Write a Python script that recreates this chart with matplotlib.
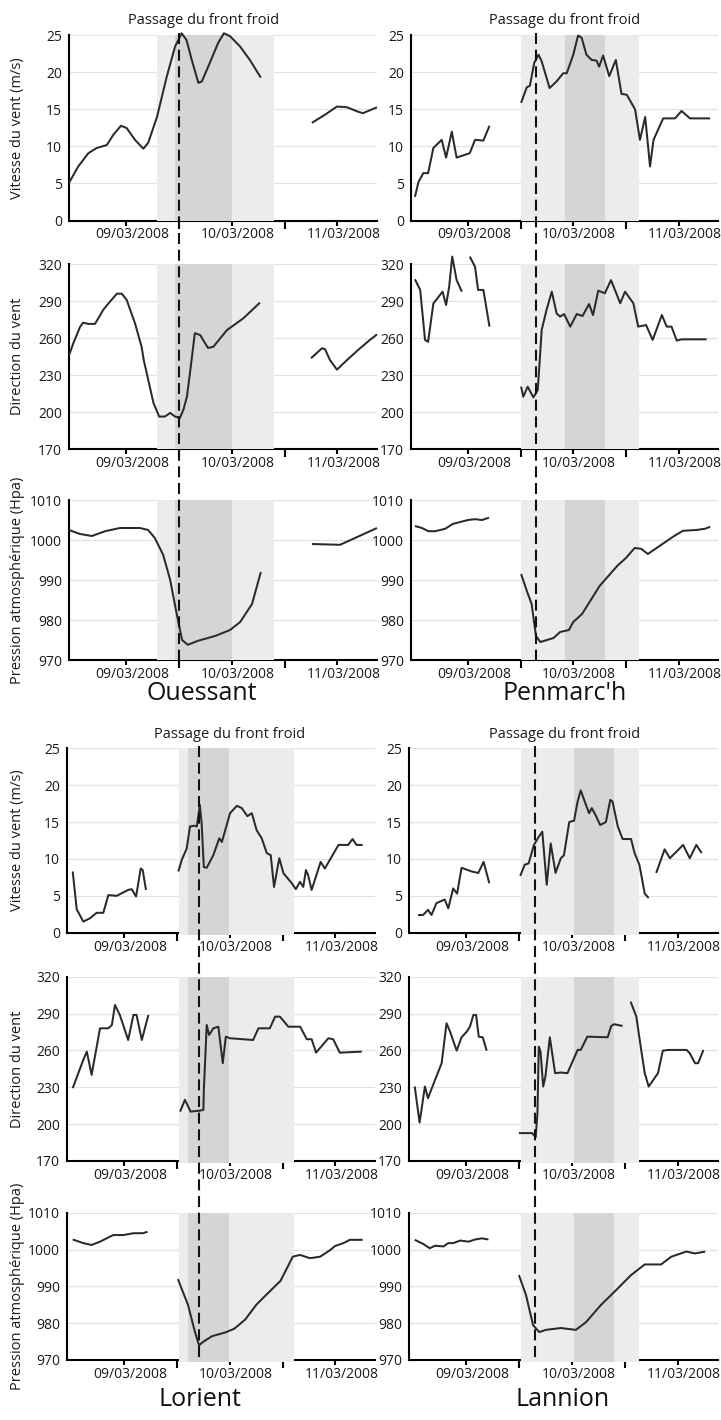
import numpy as np
import matplotlib.pyplot as plt
from matplotlib.lines import Line2D
from matplotlib.transforms import ScaledTranslation

plt.rcParams['font.family'] = ['Open Sans', 'DejaVu Sans']

nan = np.nan

# x axis: hours counted from 08/03/2008 11:00
x_max = 70
tick_hours = [13, 37, 61]
tick_labels = ['09/03/2008', '10/03/2008', '11/03/2008']
noon_hours = [25, 49]

speed_ticks = [0, 5, 10, 15, 20, 25]
dir_ticks = [170, 200, 230, 260, 290, 320]
pres_ticks = [970, 980, 990, 1000, 1010]

ylabels = ['Vitesse du vent (m/s)', 'Direction du vent', 'Pression atmosphérique (Hpa)']

# ---------------- Ouessant
oue_speed_t = [0, 2.1, 4.4, 6.3, 8.6, 10.1, 11.8, 13.1, 15, 16.9, 18, 20, 22.2, 24.1, 25.6, 26.7,
               27.9, 29.4, 30.2, 32, 33.9, 35.2, 36.6, 38.9, 41.1, 43.6, nan,
               55.2, 58.2, 60.9, 63.2, 65.7, 66.8, 68.4, 70]
oue_speed_v = [5.1, 7.3, 9.1, 9.8, 10.2, 11.6, 12.8, 12.5, 10.9, 9.7, 10.5, 14, 19.4, 23.5, 25.3, 24.4,
               21.7, 18.6, 18.8, 21.3, 24, 25.3, 24.9, 23.5, 21.7, 19.3, nan,
               13.2, 14.3, 15.4, 15.3, 14.7, 14.5, 14.9, 15.3]
oue_dir_t = [0, 1, 2.5, 3.2, 4.4, 5.9, 7.8, 9.3, 10.9, 12, 13.1, 15, 16.5, 17, 19.2, 20.5, 21.8, 23,
             24.1, 25.2, 26, 26.8, 27.5, 28.6, 29.8, 31.6, 32.8, 35.9, 39.6, 43.4, nan,
             55, 57.5, 58.2, 59.3, 60.9, 63.2, 65.7, 68.4, 70]
oue_dir_v = [246, 256, 269, 272.5, 271.5, 271.5, 283, 289.5, 296, 296, 291, 272, 253, 242, 207.5, 196.5,
             196.5, 199.5, 196.5, 195.5, 202, 212.5, 232, 264, 262.5, 252, 253, 266.5, 276, 288.7, nan,
             243.7, 251.8, 251, 242.3, 234.5, 242.3, 250.4, 258.6, 263]
oue_pres_t = [0, 2.5, 5.2, 8.2, 11.6, 16.1, 18, 19.5, 21.4, 23, 24.3, 25.7, 27, 29.3, 33.2, 36.6,
              38.9, 41.6, 43.6, nan, 55.2, 61.6, 65, 70]
oue_pres_v = [1002.5, 1001.5, 1001, 1002.2, 1003, 1003, 1002.5, 1000.5, 996.3, 990, 982.5, 975,
              973.8, 974.8, 976, 977.5, 979.5, 984, 992, nan, 999, 998.8, 1000.5, 1003]

# ---------------- Penmarc'h
pen_speed_t = [0.9, 1.7, 2.8, 3.9, 5.1, 7, 8, 9.3, 10.4, 13.4, 14.6, 16.5, 17.9, nan,
               25.1, 26.4, 27.1, 28.1, 29.1, 29.8, 31.6, 33.2, 34.7, 35.5, 37, 38.1, 38.9, 40,
               41.2, 42.3, 42.9, 43.8, 45.2, 46.7, 48, 49.2, 51.1, 52.2, 53.4, 54.5, 55.3, 57.5,
               60.2, 61.7, 63.6, 68.2]
pen_speed_v = [3.2, 5.2, 6.4, 6.4, 9.8, 10.9, 8.5, 12, 8.5, 9.1, 10.9, 10.8, 12.8, nan,
               15.9, 18, 18.2, 21.3, 22.4, 21.5, 17.9, 18.8, 19.9, 19.9, 22.4, 25, 24.7, 22.4,
               21.7, 21.6, 20.8, 22.3, 19.5, 21.7, 17.1, 17, 15, 10.9, 14, 7.3, 10.9, 13.8,
               13.8, 14.8, 13.8, 13.8]
pen_dir_t = [0.9, 2.1, 3.2, 3.9, 5.1, 7.2, 8, 8.7, 9.4, 10.4, 11.6, nan,
             13.4, 14.6, 15.3, 16.5, 17.9, nan,
             25.1, 25.6, 26.6, 27.9, 28.9, 29.2, 29.8, 30.9, 32.1, 33.2, 34, 34.9, 36.3, 37.8,
             39.1, 40.6, 41.5, 42.7, 44.2, 45.6, 46.5, 47.7, 48.8, 50.7, 51.8, 53.6, 55.1, 57.2,
             58.3, 59.4, 60.6, 61.7, 67.4]
pen_dir_v = [307.6, 299, 258.5, 257, 288, 297.6, 286.8, 301.6, 326, 307, 297.6, nan,
             326, 317.8, 299, 299, 269.3, nan,
             220.7, 212.6, 220.7, 212, 218, 234, 266.6, 282.8, 297.6, 280, 277.4, 279.5, 269.3, 279.5,
             277.9, 287.6, 278.7, 298.4, 296.3, 307, 299, 288.2, 297.6, 288.2, 269.3, 270.6, 258.5, 278.7,
             269.3, 269.3, 258, 259, 259]
pen_pres_t = [0.9, 2.5, 4, 5.5, 7.8, 9.5, 11.2, 13, 14.6, 16.2, 17.8, nan,
              25.1, 26.5, 27.5, 28.5, 29.5, 31, 32.5, 34, 36, 37, 39, 41, 43, 45, 47, 49, 51, 52.5,
              54, 56, 58, 60, 62, 65, 67, 68.2]
pen_pres_v = [1003.5, 1003, 1002.2, 1002.2, 1002.8, 1004, 1004.5, 1005, 1005.2, 1005, 1005.6, nan,
              991.5, 987, 984, 976, 974.5, 975, 975.5, 977, 977.5, 979.5, 981.5, 985, 988.5, 991, 993.5,
              995.5, 998, 997.8, 996.5, 998, 999.5, 1001, 1002.3, 1002.5, 1002.8, 1003.3]

# ---------------- Lorient
lor_speed_t = [1.3, 2.2, 3.7, 5.2, 6.75, 8.25, 9.4, 11.3, 13.9, 14.7, 15.7, 16.75, 17.2, 17.95, nan,
               25.3, 26.1, 27.2, 27.95, 28.9, 29.5, 30.2, 30.6, 31.1, 31.75, 33.25, 34.6, 35.2, 37.05,
               38.6, 39.7, 41, 42, 43.1, 44.25, 45.4, 46.3, 47.05, 48.25, 49.2, 51.1, 52, 52.95, 53.7,
               54.3, 54.8, 55.6, 57.65, 58.6, 61.7, 63.9, 64.9, 65.8, 67.2]
lor_speed_v = [8.3, 3.2, 1.5, 1.95, 2.7, 2.7, 5.1, 5, 5.8, 5.9, 4.9, 8.7, 8.5, 5.8, nan,
               8.3, 9.9, 11.4, 14.4, 14.5, 14.4, 17.3, 14.8, 8.9, 8.8, 10.5, 12.8, 12.3, 16.2,
               17.2, 16.9, 15.8, 16.2, 13.9, 12.8, 10.8, 10.5, 6.2, 10.1, 8.05, 6.7, 5.9, 6.9, 6.2,
               8.5, 7.8, 5.8, 9.6, 8.7, 11.9, 11.9, 12.7, 11.9, 11.9]
lor_dir_t = [1.3, 3.7, 4.5, 5.6, 7.5, 9.4, 10.2, 10.9, 12, 13.9, 15.1, 15.8, 17, 18.5, nan,
             25.7, 26.8, 28.1, 30.2, 31, 31.1, 31.75, 32.3, 33.25, 34.4, 35.4, 36.1, 37.05, 42.3,
             43.5, 46.1, 47.3, 48.4, 50.3, 53, 54.5, 55.6, 56.6, 59.4, 60.5, 62, 67]
lor_dir_v = [229.3, 252.3, 259, 240.1, 278, 278, 280.7, 297, 288.9, 268.5, 288.9, 288.9, 268.5, 288.9, nan,
             210.2, 219.8, 210.2, 211, 211.6, 227.9, 280.7, 272.6, 278, 279.3, 249.6, 271.2, 269.9, 268.5,
             278, 278, 287.5, 287.5, 279.3, 279.3, 269.1, 269.1, 258.2, 269.9, 269.1, 258.2, 259]
lor_pres_t = [1.3, 3.7, 5.6, 7.5, 9, 10.5, 12.8, 15.1, 17.3, 18.3, nan,
              25.2, 27.5, 29, 30, 31, 33, 36, 38, 40.5, 43, 45.5, 48.5, 50, 51.3, 52.95, 55.2,
              57.5, 59.8, 60.9, 62.8, 64.3, 67.2]
lor_pres_v = [1002.8, 1001.8, 1001.3, 1002.2, 1003.1, 1004, 1004, 1004.5, 1004.5, 1004.9, nan,
              992, 985, 978, 974, 975, 976.5, 977.5, 978.5, 981, 985, 988, 991.5, 995, 998.1, 998.6, 997.7,
              998.1, 999.9, 1001, 1001.8, 1002.7, 1002.7]

# ---------------- Lannion
lan_speed_t = [2.05, 3.2, 4.3, 5.1, 6.2, 8.1, 8.9, 10, 10.9, 11.9, 14.2, 15.7, 16.9, 18.2, nan,
               25.2, 26.2, 27.1, 28.3, 29.4, 30.2, 30.6, 31.2, 32.1, 33.2, 34.4, 35.1, 36.3, 37.4,
               38.2, 38.9, 39.8, 40.8, 41.4, 42.3, 43.3, 44.6, 45.6, 46.1, 47.3, 48.4, 50.3, 51.1,
               52.2, 53.4, 54.3, nan,
               56, 57.9, 59.1, 62.1, 63.6, 65.1, 66.3]
lan_speed_v = [2.4, 2.4, 3.1, 2.4, 4, 4.5, 3.3, 6, 5.3, 8.8, 8.3, 8.1, 9.6, 6.7, nan,
               7.7, 9.2, 9.4, 11.9, 13, 13.7, 10.8, 6.5, 12.1, 8.1, 10.1, 10.5, 15, 15.2,
               17.8, 19.3, 17.8, 16.2, 16.9, 15.9, 14.6, 15, 18, 17.8, 14.4, 12.7, 12.7, 10.8,
               9.2, 5.3, 4.7, nan,
               8.1, 11.3, 10.1, 11.9, 10.1, 11.9, 10.8]
lan_dir_t = [1.3, 1.7, 2.4, 3.6, 4.3, 5.9, 7.4, 8.5, 9.3, 10.8, 11.9, 13.1, 13.8, 14.6, 15.2, 15.8,
             16.7, 17.6, nan,
             24.9, 27.9, 28.7, 29.1, 29.4, 29.8, 30.4, 30.9, 31.9, 33.1, 34.4, 35.9, 38.2, 38.9,
             40.4, 45, 45.8, 46.5, 48.4, nan,
             50.2, 51.5, 52.6, 53.4, 54.3, 56.4, 57.5, 58.7, 62.9, 63.6, 64.8, 65.5, 66.7]
lan_dir_v = [230.6, 219.8, 201.3, 230.6, 221.1, 236, 249.6, 282.1, 275.3, 259.8, 270.7, 275.3, 279.3,
             288.9, 288.9, 271.2, 270.7, 259.8, nan,
             192.7, 192.7, 189.4, 209, 263, 259, 230.6, 238.7, 270.7, 241.5, 242, 241.5, 260.4, 260.4,
             271.2, 270.7, 279.9, 281.3, 279.9, nan,
             299.7, 287.5, 260.4, 241.5, 230.6, 241.5, 259.8, 260.4, 260.4, 257.7, 249.6, 249.6, 260.4]
lan_pres_t = [1.3, 3.2, 4.7, 5.9, 7.8, 8.9, 10, 11.6, 13.5, 15, 16.5, 18, nan,
              24.9, 26.5, 28.1, 29.5, 31, 34.4, 37.8, 40.1, 43.5, 46.9, 50.3, 53.4, 57.1, 59.4,
              62.8, 64.8, 67.1]
lan_pres_v = [1002.7, 1001.6, 1000.4, 1001.1, 1000.9, 1001.8, 1001.8, 1002.5, 1002.2, 1002.8, 1003.1,
              1002.8, nan,
              993.1, 987.7, 979.5, 977.6, 978.2, 978.7, 978.2, 980.3, 985, 989, 993.1, 996, 996, 998.1,
              999.5, 999, 999.5]

stations = ['Ouessant', "Penmarc'h", 'Lorient', 'Lannion']
station_series = [
    [(oue_speed_t, oue_speed_v), (oue_dir_t, oue_dir_v), (oue_pres_t, oue_pres_v)],
    [(pen_speed_t, pen_speed_v), (pen_dir_t, pen_dir_v), (pen_pres_t, pen_pres_v)],
    [(lor_speed_t, lor_speed_v), (lor_dir_t, lor_dir_v), (lor_pres_t, lor_pres_v)],
    [(lan_speed_t, lan_speed_v), (lan_dir_t, lan_dir_v), (lan_pres_t, lan_pres_v)],
]
# front passage hour, light shading (start, end), dark shading (start, end)
front_hour = [25, 28.5, 30, 28.5]
light_span = [(20, 46.5), (25.1, 52), (25.5, 51.5), (25.3, 52)]
dark_span = [(24, 37), (35, 44.3), (27.5, 36.8), (37.3, 46.5)]

# ---------------- layout (pixels)
W, H = 721, 1420
col_left = [69, 411, 67, 409]
col_width = [308, 307, 308, 309]
rows_top = [[35.5, 264, 500], [35.5, 264, 500], [748.3, 976.7, 1213], [748.3, 976.7, 1213]]
rows_bot = [[220.5, 449.3, 660], [220.5, 449.3, 660], [932.7, 1161, 1360], [932.7, 1161, 1360]]
title_xy = [(204, 20), (565, 20), (230, 735), (565, 735)]
name_xy = [(202, 693), (565, 693), (200, 1400), (563, 1400)]

ylims = [(0, 25), (170, 320), (970, 1010)]
yticks = [speed_ticks, dir_ticks, pres_ticks]

light_col = '#ececec'
dark_col = '#d5d5d5'
line_col = '#2a2a2a'

fig = plt.figure(figsize=(W / 100, H / 100), dpi=100)
label_shift = ScaledTranslation(6 / 100, 0, fig.dpi_scale_trans)

for s in range(4):
    axes = []
    for r in range(3):
        top, bot = rows_top[s][r], rows_bot[s][r]
        ax = fig.add_axes([col_left[s] / W, 1 - bot / H, col_width[s] / W, (bot - top) / H])
        axes.append(ax)
        t, v = station_series[s][r]
        # lower group: the shading runs over the x axis line
        below = -2.2 / (bot - top) if s >= 2 else 0
        ax.axvspan(*light_span[s], ymin=below, color=light_col, lw=0, zorder=1, clip_on=False)
        ax.axvspan(*dark_span[s], ymin=below, color=dark_col, lw=0, zorder=1.1, clip_on=False)
        ax.plot(t, v, color=line_col, lw=1.45, zorder=3, clip_on=False,
                solid_joinstyle='round', solid_capstyle='butt')
        ax.set_xlim(0, x_max)
        ax.set_ylim(*ylims[r])
        ax.set_yticks(yticks[r])
        ax.grid(axis='y', color='#e2e2e2', lw=0.9)
        ax.set_axisbelow(True)
        for side in ['top', 'right']:
            ax.spines[side].set_visible(False)
        ax.spines['left'].set_linewidth(1.5)
        ax.spines['bottom'].set_linewidth(1.5)
        ax.spines['bottom'].set_zorder(0.9)
        ax.spines['left'].set_zorder(2.5)
        ax.tick_params(axis='y', length=0, pad=5, labelsize=10, labelcolor='#1a1a1a')
        ax.set_xticks(tick_hours)
        ax.set_xticklabels(tick_labels)
        ax.set_xticks(noon_hours, minor=True)
        ax.tick_params(axis='x', which='major', length=3.5, width=1.5, pad=1.5,
                       labelsize=10, labelcolor='#1a1a1a')
        ax.tick_params(axis='x', which='minor', length=5.5, width=1.5)
        for lab in ax.get_xticklabels():
            lab.set_transform(lab.get_transform() + label_shift)
        if s in (0, 2):
            fig.text(18 / W, 1 - (top + bot) / 2 / H, ylabels[r], rotation=90,
                     ha='center', va='center', fontsize=10.5, color='#1a1a1a')

    # dashed line for the front passage, through all three panels
    inv = fig.transFigure.inverted()
    x0, y0 = inv.transform(axes[0].transData.transform((front_hour[s], ylims[0][1])))
    x1, y1 = inv.transform(axes[2].transData.transform((front_hour[s], ylims[2][0])))
    fig.add_artist(Line2D([x0, x1], [y0 + 2 / H, y1], transform=fig.transFigure, color='#111111',
                          lw=1.5, dashes=(5.3, 2.7), zorder=10))

    fig.text(title_xy[s][0] / W, 1 - title_xy[s][1] / H, 'Passage du front froid',
             ha='center', va='center', fontsize=10.5, color='#1a1a1a')
    fig.text(name_xy[s][0] / W, 1 - name_xy[s][1] / H, stations[s],
             ha='center', va='center', fontsize=18, color='#111111')

fig.savefig('out.png', dpi=100)
